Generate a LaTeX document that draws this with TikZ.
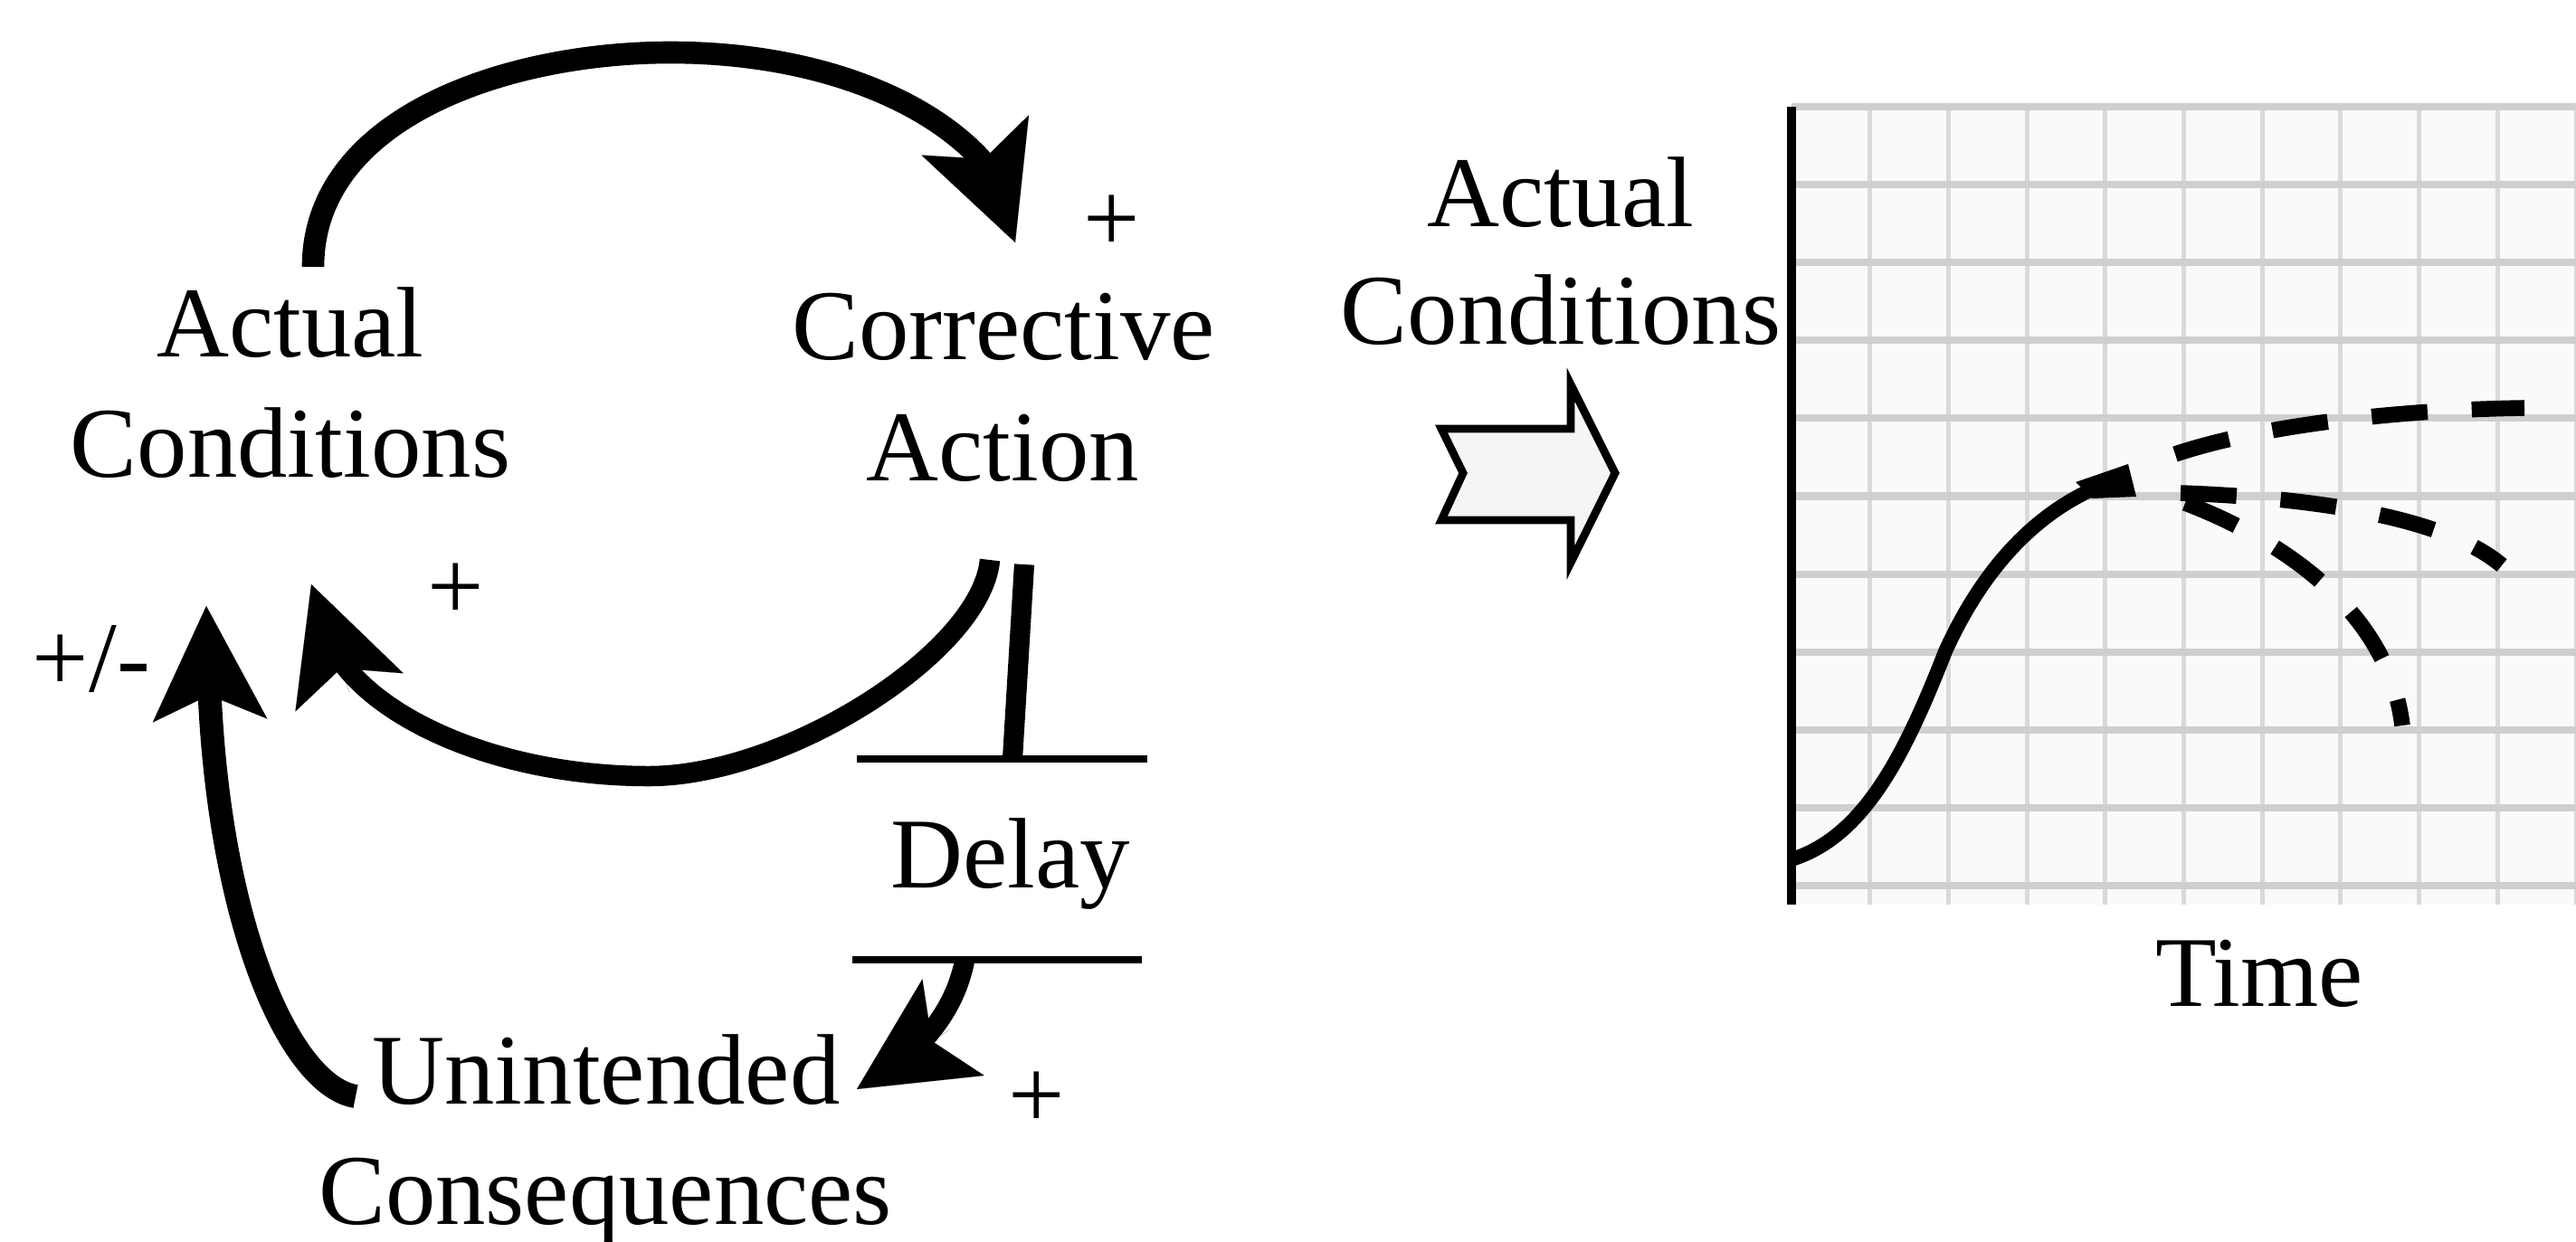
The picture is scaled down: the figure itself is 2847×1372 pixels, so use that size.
\documentclass[tikz,border=0pt]{standalone}
\usepackage{fontspec}
\setmainfont{Liberation Serif}
\usetikzlibrary{arrows.meta}
\tikzset{
  lbl/.style={inner sep=0pt, anchor=base, font=\fontsize{31.5}{38}\selectfont},
  sgn/.style={inner sep=0pt, font=\fontsize{31.5}{38}\selectfont},
  shaft/.style={line width=7pt, line cap=butt, line join=round},
  headonly/.style={line width=0.01pt, -{Stealth[length=36pt,width=36pt,inset=8pt]}},
  gridh/.style={line width=2.3pt, color=gray!38},
  gridv/.style={line width=1.4pt, color=gray!30},
  fut/.style={line width=5pt, line cap=butt, dash pattern=on 17.6pt off 13.9pt},
  delayline/.style={line width=2pt},
}
\begin{document}
\begin{tikzpicture}[x=0.01cm,y=-0.01cm]
\useasboundingbox (0,0) rectangle (2847,1372);

% ---------- graph ----------
\fill[gray!4] (1980,118) rectangle (2847,1000);
\foreach \k in {1,...,10} \draw[gridv] ({1980+86.7*\k},118) -- ({1980+86.7*\k},1000);
\foreach \k in {0,...,10} \draw[gridh] (1980,{118+86.1*\k}) -- (2847,{118+86.1*\k});
\draw[line width=2.8pt] (1980,118) -- (1980,1000);

\draw[line width=4.5pt] (1980,950) .. controls (2060,925) and (2105,835) .. (2150,720)
   .. controls (2200,610) and (2270,550) .. (2350,527);
\fill (2294,533) -- (2352,513) -- (2361,549) -- (2312,551) -- cycle;
\draw[fut] (2404,502) .. controls (2500,470) and (2650,453) .. (2790,451);
\draw[fut] (2410,545) .. controls (2550,550) and (2700,570) .. (2765,625);
\draw[fut] (2415,556) .. controls (2530,600) and (2640,680) .. (2655,802);

\node[lbl] (gac1) at (1725,250) {Actual};
\node[lbl] (gac2) at (1725,380) {Conditions};
\node[lbl] (time) at (2497,1112) {Time};

% chevron arrow
\draw[line width=2.5pt, fill=gray!8, line join=miter]
  (1593,474) -- (1736,474) -- (1736,425) -- (1785,523) -- (1736,622)
  -- (1736,575) -- (1593,575) -- (1617,523) -- cycle;

% ---------- loop diagram ----------
\node[lbl] (ac1) at (321,394) {Actual};
\node[lbl] (ac2) at (321,527) {Conditions};
\node[lbl] (ca1) at (1109,397) {Corrective};
\node[lbl] (ca2) at (1108,531) {Action};
\node[lbl] (dl) at (1117,981) {Delay};
\node[lbl] (uc1) at (670,1220) {Unintended};
\node[lbl] (uc2) at (669,1353) {Consequences};

\node[sgn] (p1) at (1229,247) {+};
\node[sgn] (p2) at (504,654) {+};
\node[lbl] (p3) at (101,764) {+/-};
\node[sgn] (p4) at (1146,1216) {+};

\coordinate (acOut) at (346,295);
\coordinate (caIn) at (1122,268);
\coordinate (caInB) at (1078,150);
\coordinate (caOut) at (1094,619);
\coordinate (acIn) at (344,646);
\coordinate (acInB) at (386,765);
\coordinate (ucOut) at (393,1212);
\coordinate (acIn2) at (228,670);
\coordinate (acIn2B) at (232,795);
\coordinate (dlOut) at (1066,1063);
\coordinate (ucIn) at (947,1204);
\coordinate (ucInB) at (1050,1138);

% Actual -> Corrective
\draw[shaft] (acOut) .. controls (346,130) and (560,58) .. (741,58)
   .. controls (900,58) and (1030,110) .. (1092,185);
\draw[headonly] (caInB) -- (caIn);
% Corrective -> Actual
\draw[shaft, line width=6.4pt] (caOut) .. controls (1085,720) and (870,858) .. (717,858)
   .. controls (560,858) and (420,800) .. (371,722);
\draw[headonly] (acInB) -- (acIn);
% Unintended -> Actual
\draw[shaft, line width=7.4pt] (ucOut) .. controls (320,1200) and (240,1020) .. (231,750);
\draw[headonly] (acIn2B) -- (acIn2);

% delay
\draw[line width=6.3pt] (1132,624) -- (1119,839);
\draw[delayline] (947,839) -- (1268,839);
\draw[delayline] (942,1061) -- (1262,1061);
% Delay -> Unintended
\draw[shaft, line width=6.3pt] (dlOut) .. controls (1058,1100) and (1040,1135) .. (998,1172);
\draw[headonly] (ucInB) -- (ucIn);
\end{tikzpicture}
\end{document}
